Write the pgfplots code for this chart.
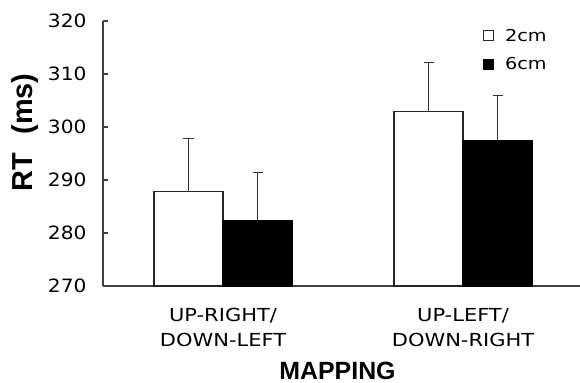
\documentclass[border=0pt]{standalone}
\usepackage{fontspec}
\setmainfont{DejaVu Sans}
\newfontfamily\wfa[FakeStretch=1.1]{DejaVu Sans}
\newfontfamily\wfb[FakeStretch=1.17]{DejaVu Sans}
\newfontfamily\lb{Liberation Sans}
\usepackage{pgfplots}
\pgfplotsset{compat=1.18}
\begin{document}
\begin{tikzpicture}
\begin{axis}[
  scale only axis,
  width=477bp, height=265bp,
  xmin=-0.5, xmax=1.4875,
  ymin=270, ymax=320,
  ytick={270,280,...,320},
  axis x line*=bottom, axis y line*=left,
  xtick pos=bottom, ytick pos=left,
  axis line style={-, line width=1.2pt, black!75},
  tick style={line width=1.2pt, black!75},
  tick align=inside,
  major tick length=5bp,
  xtick={0,1},
  xticklabels={{UP-RIGHT/\\DOWN-LEFT},{UP-LEFT/\\DOWN-RIGHT}},
  x tick style={draw=none},
  extra x ticks={0.5},
  extra x tick labels={},
  extra x tick style={tick style={draw=black!75, line width=1.2pt}},
  x tick label style={align=center, font=\wfb\fontsize{18}{24.5}\selectfont, yshift=-14bp},
  y tick label style={font=\wfa\fontsize{18.4}{20}\selectfont, xshift=-13bp},
  /pgf/number format/assume math mode=true,
  xlabel={MAPPING},
  xlabel style={font=\lb\bfseries\fontsize{25}{28}\selectfont, at={(axis description cs:0.4916,-0.352)}, anchor=base},
  ylabel={RT\hspace{18bp}(ms)},
  ylabel style={font=\lb\bfseries\fontsize{29}{32}\selectfont, at={(axis description cs:-0.163,0.58)}, anchor=center},
  ybar=0pt,
  bar width=0.2875,
  legend style={draw=none, fill=none, at={(rel axis cs:0.797,0.978)}, anchor=north west,
    font=\wfb\fontsize{16.5}{20}\selectfont, row sep=11bp, column sep=9bp, inner sep=0pt},
  legend cell align=left,
  legend image code/.code={\draw[#1, line width=0.8pt] (0bp,-5bp) rectangle (10bp,5bp);},
  error bars/error bar style={line width=1pt, black!80},
  error bars/error mark options={rotate=90, mark size=5bp, line width=1pt, black!80},
]
\addplot[draw=black!85, fill=white, line width=1.2pt,
  error bars/.cd, y dir=plus, y explicit]
  coordinates {(0,287.8) +- (0,10.1) (1,303.0) +- (0,9.2)};
\addplot[draw=black, fill=black, line width=1.2pt,
  error bars/.cd, y dir=plus, y explicit]
  coordinates {(0,282.3) +- (0,9.1) (1,297.5) +- (0,8.5)};
\legend{2cm,6cm}
\end{axis}
\pgfresetboundingbox
\path[use as bounding box] (-103bp,-97bp) rectangle (477bp,286bp);
\end{tikzpicture}
\end{document}
